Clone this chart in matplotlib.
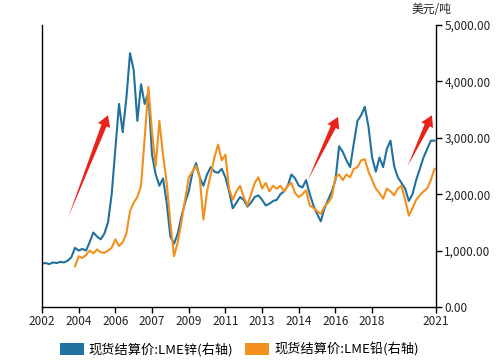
import matplotlib
matplotlib.use("Agg")
import matplotlib.pyplot as plt
from matplotlib.patches import Patch, Polygon
from matplotlib.transforms import IdentityTransform
from matplotlib.ticker import FuncFormatter
import numpy as np

plt.rcParams["font.family"] = ["Noto Sans CJK SC", "DejaVu Sans"]

# x axis: evenly spaced tick labels (index based), last tick at the right edge
tick_pos = [0, 1, 2, 3, 4, 5, 6, 7, 8, 9, 10.74]
tick_labels = ["2002", "2004", "2006", "2007", "2009", "2011",
               "2013", "2014", "2016", "2018", "2021"]

step = 0.1  # spacing of samples, in tick units

# LME zinc spot settlement, USD/t
zinc = [770, 780, 760, 790, 780, 800, 790, 820, 880, 1050,
        1000, 1030, 1000, 1150, 1320, 1250, 1200, 1300, 1500, 2000,
        2800, 3600, 3100, 3700, 4500, 4200, 3300, 3950, 3600, 3800,
        2700, 2350, 2150, 2280, 1850, 1250, 1120, 1300, 1600, 1850,
        2050, 2380, 2550, 2300, 2150, 2350, 2480, 2400, 2380, 2450,
        2300, 2050, 1750, 1850, 1950, 1900, 1780, 1850, 1950, 1980,
        1900, 1800, 1830, 1880, 1900, 2000, 2050, 2150, 2350, 2280,
        2150, 2120, 2250, 2000, 1800, 1650, 1520, 1750, 1900, 2050,
        2250, 2850, 2750, 2600, 2480, 2900, 3300, 3400, 3550, 3200,
        2650, 2400, 2650, 2480, 2800, 2950, 2500, 2300, 2200, 2100,
        1880, 2000, 2250, 2450, 2650, 2800, 2950, 2950]

# LME lead spot settlement, USD/t (series starts later)
lead_start = 9
lead = [720, 900, 870, 920, 1000, 950, 1020, 970, 960, 1000,
        1050, 1200, 1080, 1150, 1300, 1700, 1850, 1950, 2150, 3000,
        3900, 3100, 2500, 3300, 2700, 2200, 1500, 900, 1150, 1500,
        1900, 2300, 2400, 2500, 2300, 1550, 2050, 2350, 2650, 2880,
        2600, 2700, 2100, 1900, 2050, 2150, 1950, 1800, 2000, 2200,
        2300, 2100, 2200, 2050, 2150, 2100, 2150, 2050, 2150, 2200,
        2020, 1950, 2000, 2070, 1800, 1760, 1700, 1650, 1780, 1850,
        1950, 2300, 2350, 2250, 2350, 2300, 2450, 2480, 2600, 2620,
        2400, 2250, 2100, 2020, 1920, 2100, 2050, 1980, 2100, 2150,
        1900, 1620, 1750, 1900, 1980, 2050, 2100, 2250, 2450]

# trend arrows: (tail, head) in data coords
arrows = [((0.71, 1580), (1.80, 3400)),
          ((7.25, 2250), (8.07, 3370)),
          ((9.97, 2500), (10.63, 3400))]

zinc_x = np.arange(len(zinc)) * step
lead_x = (np.arange(len(lead)) + lead_start) * step

blue = "#22709e"
orange = "#f2901e"

fig = plt.figure(figsize=(5.04, 3.64), dpi=100)
ax = fig.add_axes([0.0833, 0.1566, 0.7817, 0.7747])

ax.plot(zinc_x, zinc, color=blue, lw=1.5)
ax.plot(lead_x, lead, color=orange, lw=1.5)

ax.set_xlim(0, 10.74)
ax.set_ylim(0, 5000)
ax.set_xticks(tick_pos)
ax.set_xticklabels(tick_labels)
ax.yaxis.tick_right()
ax.set_yticks([0, 1000, 2000, 3000, 4000, 5000])
ax.yaxis.set_major_formatter(FuncFormatter(lambda v, p: f"{v:,.2f}"))
ax.tick_params(axis="both", labelsize=8.5, length=4, width=1, color="black",
               labelcolor="#222222", pad=2)
ax.tick_params(axis="y", right=True, left=False)

ax.spines["top"].set_visible(False)
for s in ["left", "right", "bottom"]:
    ax.spines[s].set_linewidth(1)
    ax.spines[s].set_color("black")

# red arrows: shaft tapers from a point at the tail, then a triangular head
shaft_w, head_w, head_l = 5.5, 13, 11  # pixels
for tail, head in arrows:
    p0 = ax.transData.transform(tail)
    p1 = ax.transData.transform(head)
    d = (p1 - p0) / np.hypot(*(p1 - p0))
    n = np.array([-d[1], d[0]])
    base = p1 - d * head_l
    pts = [p0, base + n * shaft_w / 2, base + n * head_w / 2, p1,
           base - n * head_w / 2, base - n * shaft_w / 2]
    fig.patches.append(Polygon(pts, closed=True, facecolor="#e8231b",
                               edgecolor="none", transform=IdentityTransform(),
                               figure=fig))

fig.text(0.857, 0.975, "美元/吨", fontsize=8.5, ha="center", va="center",
         color="#222222")

handles = [Patch(facecolor=blue, label="现货结算价:LME锌(右轴)"),
           Patch(facecolor=orange, label="现货结算价:LME铅(右轴)")]
fig.legend(handles=handles, loc="center", bbox_to_anchor=(0.475, 0.04),
           ncol=2, frameon=False, fontsize=9.5, handlelength=1.8,
           handleheight=1.0, handletextpad=0.4, columnspacing=0.9,
           borderaxespad=0)

fig.savefig("out.png", dpi=100)
